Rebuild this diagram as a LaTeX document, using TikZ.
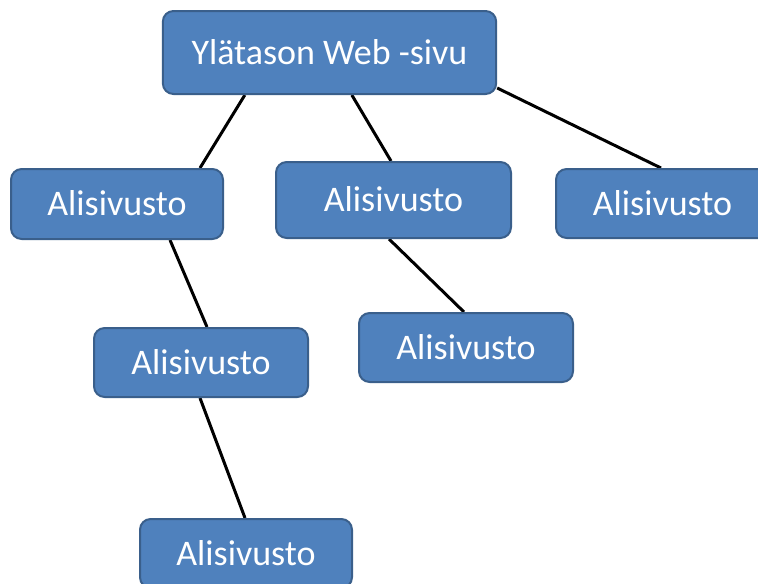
\documentclass[tikz,border=0pt]{standalone}
\usepackage{fontspec}
\setmainfont{Carlito}
\usetikzlibrary{calc,backgrounds}
\definecolor{boxfill}{HTML}{4F81BD}
\definecolor{boxline}{HTML}{3A5F8B}
\tikzset{
  pagebox/.style={draw=boxline, line width=1.5pt, fill=boxfill, rounded corners=8pt,
    text=white, inner sep=0pt, font=\fontsize{27}{32}\selectfont,
    text height=17.4pt, text depth=0pt, anchor=center},
  link/.style={line width=2.25pt, black}
}
\begin{document}
\begin{tikzpicture}[x=0.75pt,y=-0.75pt]
\useasboundingbox (0,0) rectangle (758,583);
\clip (0,0) rectangle (758,583);
\node[pagebox, minimum width=250pt, minimum height=62.25pt] (top) at (329.5,52.5) {Ylätason Web -sivu};
\node[pagebox, minimum width=159pt, minimum height=52.5pt] (l1) at (117,204) {Alisivusto};
\node[pagebox, minimum width=176.25pt, minimum height=57pt] (m1) at (393.5,200) {Alisivusto};
\node[pagebox, minimum width=159.75pt, minimum height=51.75pt] (r1) at (662.5,203.5) {Alisivusto};
\node[pagebox, minimum width=160.5pt, minimum height=51.75pt] (l2) at (201,362.5) {Alisivusto};
\node[pagebox, minimum width=160.5pt, minimum height=51.75pt] (m2) at (466,347.5) {Alisivusto};
\node[pagebox, minimum width=159pt, minimum height=51.75pt] (b) at (246,553.5) {Alisivusto};
\begin{scope}[on background layer]
\draw[link] ($(top.south west)+(83,0)$) -- ($(l1.north west)+(190,0)$);
\draw[link] ($(top.south west)+(190,0)$) -- ($(m1.north west)+(116,0)$);
\draw[link] ($(top.south east)+(0,-7)$) -- ($(r1.north west)+(106,0)$);
\draw[link] ($(l1.south west)+(160,0)$) -- ($(l2.north west)+(114,0)$);
\draw[link] ($(m1.south west)+(114,0)$) -- ($(m2.north west)+(106,0)$);
\draw[link] ($(l2.south west)+(107,0)$) -- ($(b.north west)+(106,0)$);
\end{scope}
\end{tikzpicture}
\end{document}
